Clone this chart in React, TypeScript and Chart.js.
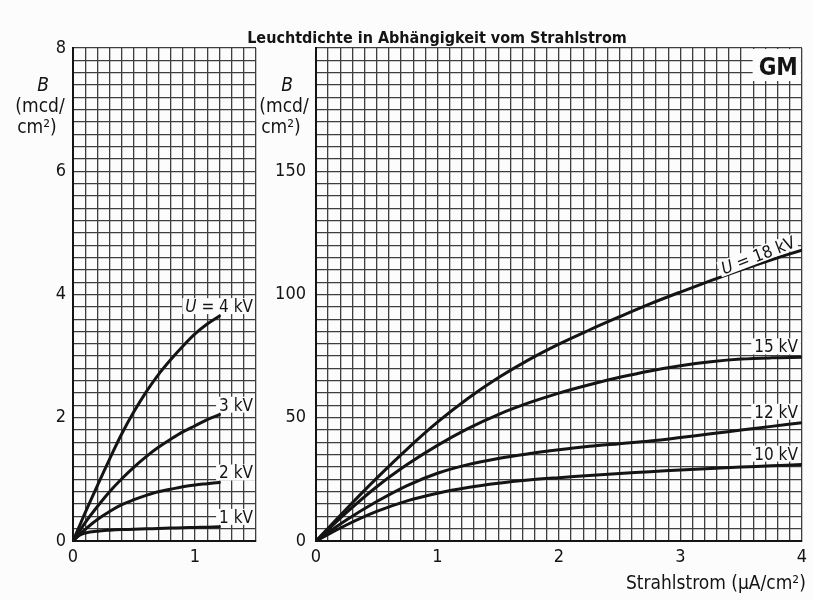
import React, { useEffect, useRef } from "react";
import { Chart, registerables } from "chart.js";

Chart.register(...registerables);

const FONT = '"DejaVu Sans Condensed", "DejaVu Sans", sans-serif';
const INK = "#141414";
const GRID = "#3e3e3e";
const PAPER = "#fcfcfc";

// ---- data (left panel, low voltages) ----
const LEFT_X = [0, 0.05, 0.1, 0.2, 0.3, 0.4, 0.5, 0.6, 0.7, 0.8, 0.9, 1.0, 1.1, 1.2];
const U4KV = [0, 0.23, 0.46, 0.9, 1.33, 1.74, 2.1, 2.42, 2.7, 2.94, 3.16, 3.36, 3.52, 3.65];
const U3KV = [0, 0.15, 0.3, 0.56, 0.8, 1.01, 1.2, 1.37, 1.52, 1.65, 1.77, 1.87, 1.97, 2.05];
const U2KV = [0, 0.1, 0.19, 0.35, 0.48, 0.59, 0.67, 0.74, 0.8, 0.84, 0.88, 0.91, 0.93, 0.95];
const U1KV = [0, 0.09, 0.13, 0.16, 0.175, 0.185, 0.19, 0.197, 0.203, 0.21, 0.215, 0.22, 0.225, 0.23];
const LEFT_LABELS = ["U = 4 kV", "3 kV", "2 kV", "1 kV"];

// ---- data (right panel, high voltages) ----
const RIGHT_X = [0, 0.25, 0.5, 0.75, 1.0, 1.25, 1.5, 1.75, 2.0, 2.25, 2.5, 2.75, 3.0, 3.25, 3.5, 3.75, 4.0];
const U18KV = [0, 13, 25.5, 37.3, 48.2, 57.8, 66.2, 73.5, 79.9, 85.6, 91, 96.2, 101, 105.6, 110, 114.1, 118];
const U15KV = [0, 11.5, 22, 31, 38.8, 45.6, 51.3, 56, 60, 63.4, 66.4, 69, 71.1, 72.7, 73.8, 74.3, 74.5];
const U12KV = [0, 8.5, 16, 22.5, 27.5, 31, 33.5, 35.4, 37, 38.4, 39.5, 40.6, 42, 43.5, 45, 46.5, 48];
const U10KV = [0, 6.5, 12, 16.3, 19.4, 21.7, 23.4, 24.7, 25.7, 26.6, 27.4, 28.1, 28.8, 29.4, 30, 30.5, 31];
const RIGHT_LABELS = ["U = 18 kV", "15 kV", "12 kV", "10 kV"];

// ---- axes / texts ----
const LEFT_X_TICKS = [0, 1];
const LEFT_Y_TICKS = [0, 2, 4, 6, 8];
const RIGHT_X_TICKS = [0, 1, 2, 3, 4];
const RIGHT_Y_TICKS = [0, 50, 100, 150];
const TITLE = "Leuchtdichte in Abhängigkeit vom Strahlstrom";
const Y_TITLE = ["B", "(mcd/", "cm²)"];
const X_TITLE = "Strahlstrom (µA/cm²)";
const BADGE = "GM";

const W = 813;
const H = 600;

function tickCb(list: number[]) {
  return (v: any) => {
    const n = Number(v);
    const hit = list.find((t) => Math.abs(t - n) < 1e-6);
    return hit === undefined ? "" : String(hit);
  };
}

function drawLabel(ctx: CanvasRenderingContext2D, text: string, rightX: number, baseline: number, size: number, boxRight: number) {
  ctx.save();
  ctx.textBaseline = "alphabetic";
  ctx.textAlign = "left";
  const normal = `${size}px ${FONT}`;
  const italic = `italic ${size}px ${FONT}`;
  let parts: { t: string; f: string }[] = [];
  if (text.startsWith("U")) {
    parts = [
      { t: "U", f: italic },
      { t: text.slice(1), f: normal },
    ];
  } else parts = [{ t: text, f: normal }];
  let total = 0;
  for (const p of parts) {
    ctx.font = p.f;
    total += ctx.measureText(p.t).width;
  }
  const left = rightX - total;
  ctx.fillStyle = PAPER;
  ctx.fillRect(left - 3, baseline - size * 0.82, boxRight - left + 3, size * 0.82 + 2);
  ctx.fillStyle = INK;
  let x = left;
  for (const p of parts) {
    ctx.font = p.f;
    ctx.fillText(p.t, x, baseline);
    x += ctx.measureText(p.t).width;
  }
  ctx.restore();
}

function drawYTitle(ctx: CanvasRenderingContext2D, cx: number) {
  ctx.save();
  ctx.fillStyle = INK;
  ctx.textAlign = "center";
  ctx.textBaseline = "alphabetic";
  ctx.font = `italic 19px ${FONT}`;
  ctx.fillText(Y_TITLE[0], cx + 3, 91);
  ctx.font = `19px ${FONT}`;
  ctx.fillText(Y_TITLE[1], cx, 112);
  ctx.fillText(Y_TITLE[2], cx - 3, 133);
  ctx.restore();
}

const leftPlugin = {
  id: "leftDecor",
  afterDatasetsDraw(chart: any) {
    const ctx = chart.ctx;
    const area = chart.chartArea;
    chart.data.datasets.forEach((ds: any, i: number) => {
      const meta = chart.getDatasetMeta(i);
      const pt = meta.data[meta.data.length - 1];
      drawLabel(ctx, LEFT_LABELS[i], area.right - 3, pt.y - 4, 17, area.right - 1);
    });
    drawYTitle(ctx, 40);
  },
};

const rightPlugin = {
  id: "rightDecor",
  afterDatasetsDraw(chart: any) {
    const ctx = chart.ctx;
    const area = chart.chartArea;
    chart.data.datasets.forEach((ds: any, i: number) => {
      const meta = chart.getDatasetMeta(i);
      const pt = meta.data[meta.data.length - 1];
      if (i === 0) {
        const prev = meta.data[meta.data.length - 3];
        const ang = Math.atan2(pt.y - prev.y, pt.x - prev.x) - 0.05;
        ctx.save();
        ctx.translate(pt.x, pt.y);
        ctx.rotate(ang);
        drawLabel(ctx, RIGHT_LABELS[i], -4, -5, 17, -2);
        ctx.restore();
      } else {
        drawLabel(ctx, RIGHT_LABELS[i], area.right - 4, pt.y - 5, 17, area.right - 1);
      }
    });
    // badge
    ctx.save();
    ctx.font = `bold 24px ${FONT}`;
    const bw = ctx.measureText(BADGE).width;
    ctx.fillStyle = PAPER;
    ctx.fillRect(area.right - bw - 10, area.top + 1, bw + 9, 32);
    ctx.fillStyle = INK;
    ctx.textAlign = "right";
    ctx.textBaseline = "alphabetic";
    ctx.fillText(BADGE, area.right - 4, area.top + 27);
    // title
    ctx.font = `bold 16px ${FONT}`;
    ctx.textAlign = "center";
    ctx.fillText(TITLE, 437, 43);
    // x title
    ctx.font = `19px ${FONT}`;
    ctx.textAlign = "right";
    ctx.fillText(X_TITLE, area.right + 4, 589);
    ctx.restore();
    drawYTitle(ctx, 284);
  },
};

function makeDatasets(xs: number[], series: number[][]) {
  return series.map((ys) => ({
    data: xs.map((x, i) => ({ x, y: ys[i] })),
    borderColor: INK,
    borderWidth: 3,
    pointRadius: 0,
    fill: false,
    tension: 0.35,
    borderCapStyle: "round" as const,
  }));
}

function axisCommon() {
  return {
    grid: { color: GRID, lineWidth: 1.3, drawTicks: false },
    border: { display: true, color: INK, width: 2 },
  };
}

export default function App() {
  const leftRef = useRef<HTMLCanvasElement>(null);
  const rightRef = useRef<HTMLCanvasElement>(null);

  useEffect(() => {
    const tickFont = { family: FONT, size: 18 };
    const left = new Chart(leftRef.current!, {
      type: "line",
      data: { datasets: makeDatasets(LEFT_X, [U4KV, U3KV, U2KV, U1KV]) as any },
      options: {
        animation: false,
        responsive: false,
        layout: { padding: { top: 48, right: W - 256, left: 0, bottom: 0 } },
        plugins: { legend: { display: false }, tooltip: { enabled: false } },
        scales: {
          x: {
            type: "linear",
            min: 0,
            max: 1.5,
            ...axisCommon(),
            afterFit: (s: any) => { s.height = 59; },
            ticks: { stepSize: 0.1, autoSkip: false, maxRotation: 0, padding: 6, color: INK, font: tickFont, callback: tickCb(LEFT_X_TICKS) },
          },
          y: {
            type: "linear",
            min: 0,
            max: 8,
            ...axisCommon(),
            afterFit: (s: any) => { s.width = 73; },
            ticks: { stepSize: 0.2, autoSkip: false, padding: 7, color: INK, font: tickFont, callback: tickCb(LEFT_Y_TICKS) },
          },
        },
      } as any,
      plugins: [leftPlugin],
    });
    const right = new Chart(rightRef.current!, {
      type: "line",
      data: { datasets: makeDatasets(RIGHT_X, [U18KV, U15KV, U12KV, U10KV]) as any },
      options: {
        animation: false,
        responsive: false,
        layout: { padding: { top: 48, right: 8, left: 0, bottom: 0 } },
        plugins: { legend: { display: false }, tooltip: { enabled: false } },
        scales: {
          x: {
            type: "linear",
            min: 0,
            max: 4,
            ...axisCommon(),
            afterFit: (s: any) => { s.height = 59; },
            ticks: { stepSize: 0.1, autoSkip: false, maxRotation: 0, padding: 6, color: INK, font: tickFont, callback: tickCb(RIGHT_X_TICKS) },
          },
          y: {
            type: "linear",
            min: 0,
            max: 200,
            ...axisCommon(),
            afterFit: (s: any) => { s.width = 316; },
            ticks: { stepSize: 5, autoSkip: false, padding: 10, color: INK, font: tickFont, callback: tickCb(RIGHT_Y_TICKS) },
          },
        },
      } as any,
      plugins: [rightPlugin],
    });
    return () => {
      left.destroy();
      right.destroy();
    };
  }, []);

  return (
    <div style={{ position: "absolute", left: 0, top: 0, width: W, height: H, background: PAPER }}>
      <canvas ref={leftRef} width={W} height={H} style={{ position: "absolute", left: 0, top: 0, width: W, height: H }} />
      <canvas ref={rightRef} width={W} height={H} style={{ position: "absolute", left: 0, top: 0, width: W, height: H }} />
    </div>
  );
}
